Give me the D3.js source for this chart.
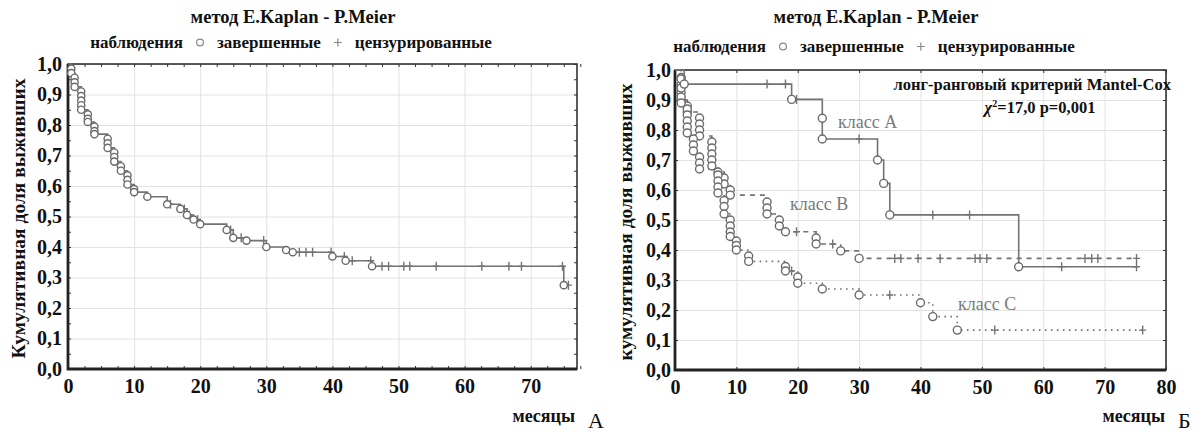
<!DOCTYPE html>
<html>
<head>
<meta charset="utf-8">
<script src="https://cdn.jsdelivr.net/npm/d3@7"></script>
<style>
  body { margin: 0; background: #fff; }
  svg text { font-family: "Liberation Serif", "Times New Roman", serif; }
  .grid line { stroke: #e2e2e2; stroke-width: 1; }
  .grid path { display: none; }
  .lbl text { font-weight: bold; font-size: 20px; fill: #111; }
  .lbl path, .lbl line { display: none; }
  .mt path { display: none; }
  .mt line { stroke: #333; stroke-width: 1; }
</style>
</head>
<body>
<svg width="1203" height="432"></svg>
<script>
// ---------- данные: график А (все наблюдения) ----------
var allT = [0.5, 0.5, 1, 1, 1, 2, 2, 2, 2, 2, 3, 3, 3, 4, 4, 4, 6, 6, 6, 7, 7, 7, 8, 8, 9, 9, 9, 10, 10, 12,
  15, 17, 18, 19, 20, 24, 25, 27, 30, 33, 34, 40, 42, 46, 75];
var allS = [0.985, 0.97, 0.955, 0.94, 0.925, 0.91, 0.895, 0.88, 0.865, 0.85, 0.835, 0.82, 0.81, 0.795, 0.78, 0.77,
  0.755, 0.74, 0.725, 0.71, 0.695, 0.68, 0.665, 0.65, 0.635, 0.62, 0.605, 0.59, 0.58, 0.565,
  0.54, 0.525, 0.505, 0.49, 0.475, 0.456, 0.43, 0.421, 0.40, 0.39, 0.383, 0.369, 0.355, 0.337, 0.275];
var allCens = [15.5, 17.6, 18.3, 19.6, 24.6, 26.2, 29.6, 35, 36, 37, 39.8, 41.8, 43, 45.8, 47.5, 48.5, 50.8, 51.7,
  55.7, 62.6, 66.7, 68.6, 74.8, 75.7];

// ---------- данные: график Б (классы A, B, C) ----------
var classAT = [1.5, 19, 24, 24, 33, 34, 35, 56];
var classAS = [0.953, 0.902, 0.839, 0.77, 0.70, 0.622, 0.517, 0.344];
var classACens = [15, 18, 19.8, 30, 42, 48, 63, 75.2];

var classBT = [1, 1, 1, 1, 2, 2, 4, 4, 4, 4, 6, 6, 6, 6, 6, 7, 8, 8, 9, 9, 15, 15, 15, 17, 17, 18, 23, 23, 27, 30];
var classBS = [0.975, 0.95, 0.925, 0.90, 0.88, 0.86, 0.84, 0.82, 0.80, 0.78, 0.76, 0.74, 0.72, 0.70, 0.68, 0.66,
  0.64, 0.62, 0.60, 0.583, 0.56, 0.54, 0.52, 0.50, 0.48, 0.461, 0.44, 0.42, 0.397, 0.372];
var classBCens = [19.8, 25.7, 35.8, 36.8, 39.6, 43.2, 48.9, 49.7, 50.8, 66.8, 67.9, 68.9, 75.2];

var classCT = [1, 1, 1, 1, 2, 2, 2, 2, 2, 3, 3, 3, 4, 4, 4, 7, 7, 7, 7, 8, 8, 8, 9, 9, 9, 9, 10, 10, 10, 12, 12,
  18, 18, 20, 20, 24, 30, 40, 42, 46];
var classCS = [0.97, 0.94, 0.91, 0.89, 0.87, 0.85, 0.83, 0.81, 0.79, 0.77, 0.75, 0.73, 0.71, 0.69, 0.67,
  0.65, 0.63, 0.61, 0.59, 0.565, 0.545, 0.52, 0.50, 0.48, 0.46, 0.445, 0.43, 0.415, 0.40, 0.38, 0.362,
  0.345, 0.33, 0.31, 0.289, 0.27, 0.25, 0.224, 0.178, 0.133];
var classCCens = [19, 35, 52.1, 76.2];

// тики
var xTicksA = [0, 10, 20, 30, 40, 50, 60, 70];
var xTicksB = [0, 10, 20, 30, 40, 50, 60, 70, 80];
var yTicks = [0, 0.1, 0.2, 0.3, 0.4, 0.5, 0.6, 0.7, 0.8, 0.9, 1.0];

var titleText = "метод E.Kaplan - P.Meier";
var yTitleA = "Кумулятивная доля выживших";
var yTitleB = "кумулятивная доля выживших";

var FONT = "'Liberation Serif', 'Times New Roman', serif";
var svg = d3.select("svg");
var lineCol = "#737373";
var fmt = function(d) { return d3.format(".1f")(d).replace(".", ","); };

// значение кривой в момент t (для цензурированных)
function survAt(T, S, t) {
  var s = 1;
  for (var i = 0; i < T.length; i++) { if (T[i] <= t) s = S[i]; }
  return s;
}

function drawPanel(p) {
  var x = d3.scaleLinear().domain([0, p.xmax]).range([p.x0, p.x1]);
  var y = d3.scaleLinear().domain([0, 1]).range([p.y0, p.y1]);
  var g = svg.append("g").attr("font-family", FONT);
  var h = p.y0 - p.y1, w = p.x1 - p.x0;

  // сетка
  g.append("g").attr("class", "grid").attr("transform", "translate(0," + p.y0 + ")")
    .call(d3.axisBottom(x).tickValues(p.xTicks.slice(1)).tickSize(-h).tickFormat(""));
  g.append("g").attr("class", "grid").attr("transform", "translate(" + p.x0 + ",0)")
    .call(d3.axisLeft(y).tickValues(yTicks.slice(1)).tickSize(-w).tickFormat(""));

  // мелкие засечки внутрь
  g.append("g").attr("class", "mt").attr("transform", "translate(0," + p.y1 + ")")
    .call(d3.axisTop(x).tickValues(p.minorX).tickSize(-3).tickFormat(""));
  g.append("g").attr("class", "mt").attr("transform", "translate(0," + p.y0 + ")")
    .call(d3.axisBottom(x).tickValues(p.minorX).tickSize(-3).tickFormat(""));
  g.append("g").attr("class", "mt").attr("transform", "translate(" + p.x1 + ",0)")
    .call(d3.axisRight(y).tickValues(p.minorY).tickSize(-3).tickFormat(""));
  g.append("g").attr("class", "mt").attr("transform", "translate(" + p.x0 + ",0)")
    .call(d3.axisLeft(y).tickValues(p.minorY).tickSize(-3).tickFormat(""));

  // рамка
  g.append("rect").attr("x", p.x0).attr("y", p.y1).attr("width", w).attr("height", h)
    .attr("fill", "none").attr("stroke", "#333").attr("stroke-width", 1.6);
  g.append("path").attr("d", "M" + p.x0 + "," + p.y1 + "V" + p.y0 + "H" + p.x1)
    .attr("fill", "none").attr("stroke", "#222").attr("stroke-width", 2.8);

  // подписи осей
  var ax = g.append("g").attr("class", "lbl").attr("transform", "translate(0," + p.y0 + ")")
    .call(d3.axisBottom(x).tickValues(p.xTicks).tickSize(0).tickPadding(10).tickFormat(d3.format("d")));
  ax.attr("font-family", FONT).select(".domain").remove();
  var ay = g.append("g").attr("class", "lbl").attr("transform", "translate(" + p.x0 + ",0)")
    .call(d3.axisLeft(y).tickValues(yTicks).tickSize(0).tickPadding(p.yPad).tickFormat(fmt));
  ay.attr("font-family", FONT).select(".domain").remove();

  g.append("text").attr("transform", "translate(" + p.yTitleX + "," + ((p.y0 + p.y1) / 2 + 2) + ") rotate(-90)")
    .attr("text-anchor", "middle").attr("font-weight", "bold").attr("font-size", 19.5).attr("fill", "#111")
    .text(p.yTitle);

  g.append("text").attr("x", p.mesX).attr("y", 422).attr("text-anchor", "end")
    .attr("font-weight", "bold").attr("font-size", 18).attr("fill", "#111").text("месяцы");
  g.append("text").attr("x", p.mesX + 13).attr("y", 428)
    .attr("font-size", 22).attr("fill", "#111").text(p.letter);

  // заголовок и легенда
  g.append("text").attr("x", p.cx).attr("y", 23).attr("text-anchor", "middle")
    .attr("font-weight", "bold").attr("font-size", 18.5).attr("fill", "#111").text(titleText);
  var leg = g.append("g").attr("font-weight", "bold").attr("font-size", 17).attr("fill", "#111");
  var parts = [["наблюдения", 0], ["○", 1], ["завершенные", 0], ["+", 2], ["цензурированные", 0]];
  var pos = 0, items = [];
  parts.forEach(function(pt) {
    if (pt[1] === 0) {
      var t = leg.append("text").attr("y", p.legY).text(pt[0]);
      var len = t.node().getComputedTextLength();
      items.push({node: t, x: pos}); pos += len;
    } else {
      items.push({sym: pt[1], x: pos + 13}); pos += 26;
    }
    pos += 4;
  });
  var start = p.cx - pos / 2;
  items.forEach(function(it) {
    if (it.node) it.node.attr("x", start + it.x);
    else if (it.sym === 1) leg.append("circle").attr("cx", start + it.x).attr("cy", p.legY - 5.5).attr("r", 3.4)
      .attr("fill", "none").attr("stroke", "#888").attr("stroke-width", 1.2);
    else leg.append("path").attr("d", "M" + (start + it.x - 4) + "," + (p.legY - 5.5) + "h8M" + (start + it.x) + "," + (p.legY - 9.5) + "v8")
      .attr("stroke", "#888").attr("stroke-width", 1.2);
  });

  // кривые
  p.series.forEach(function(s) {
    var pts = [[0, 1]];
    s.T.forEach(function(t, i) { pts.push([t, s.S[i]]); });
    var endT = d3.max(s.cens.concat(s.T));
    pts.push([endT, s.S[s.S.length - 1]]);
    var line = d3.line().x(function(d) { return x(d[0]); }).y(function(d) { return y(d[1]); })
      .curve(d3.curveStepAfter);
    g.append("path").datum(pts).attr("d", line).attr("fill", "none")
      .attr("stroke", lineCol).attr("stroke-width", 1.6).attr("stroke-dasharray", s.dash || null);

    g.selectAll(null).data(s.cens).enter().append("path")
      .attr("d", function(c) {
        var cx = x(c), cy = y(survAt(s.T, s.S, c));
        return "M" + (cx - 3.5) + "," + cy + "h7M" + cx + "," + (cy - 4.5) + "v9";
      })
      .attr("stroke", lineCol).attr("stroke-width", 1.4);

    g.selectAll(null).data(s.T).enter().append("circle")
      .attr("cx", function(t) { return x(t); })
      .attr("cy", function(t, i) { return y(s.S[i]); })
      .attr("r", p.r).attr("fill", "#fff").attr("stroke", "#6a6a6a").attr("stroke-width", 1.4);
  });
  return {x: x, y: y, g: g};
}

var minorA = d3.range(0, 78, 2.5);
drawPanel({
  x0: 68, x1: 577, y0: 369, y1: 64, xmax: 77, xTicks: xTicksA,
  minorX: minorA, minorY: d3.range(0, 1.01, 0.05), yPad: 6,
  yTitle: yTitleA, yTitleX: 25, mesX: 575, letter: "А", cx: 293, legY: 48, r: 3.6,
  series: [{T: allT, S: allS, cens: allCens}]
});

var pb = drawPanel({
  x0: 675, x1: 1166, y0: 370, y1: 70, xmax: 80, xTicks: xTicksB,
  minorX: xTicksB, minorY: yTicks, yPad: 4,
  yTitle: yTitleB, yTitleX: 632, mesX: 1165, letter: "Б", cx: 876, legY: 52, r: 4,
  series: [
    {T: classBT, S: classBS, cens: classBCens, dash: "5,5"},
    {T: classCT, S: classCS, cens: classCCens, dash: "1.6,4.4"},
    {T: classAT, S: classAS, cens: classACens}
  ]
});

// аннотации
var ann = pb.g.append("g").attr("font-weight", "bold").attr("font-size", 16.5).attr("fill", "#111");
ann.append("text").attr("x", 1171).attr("y", 90).attr("text-anchor", "end").text("лонг-ранговый критерий Mantel-Cox");
var chi = ann.append("text").attr("x", 1040).attr("y", 113).attr("text-anchor", "middle");
chi.append("tspan").attr("font-style", "italic").text("χ");
chi.append("tspan").attr("font-size", 10).attr("dy", -6).text("2");
chi.append("tspan").attr("dy", 6).text("=17,0  p=0,001");

var cls = pb.g.append("g").attr("font-size", 18).attr("fill", "#7a7a7a");
cls.append("text").attr("x", 838).attr("y", 128).text("класс A");
cls.append("text").attr("x", 790).attr("y", 210).text("класс B");
cls.append("text").attr("x", 958).attr("y", 310).text("класс C");
</script>
</body>
</html>
